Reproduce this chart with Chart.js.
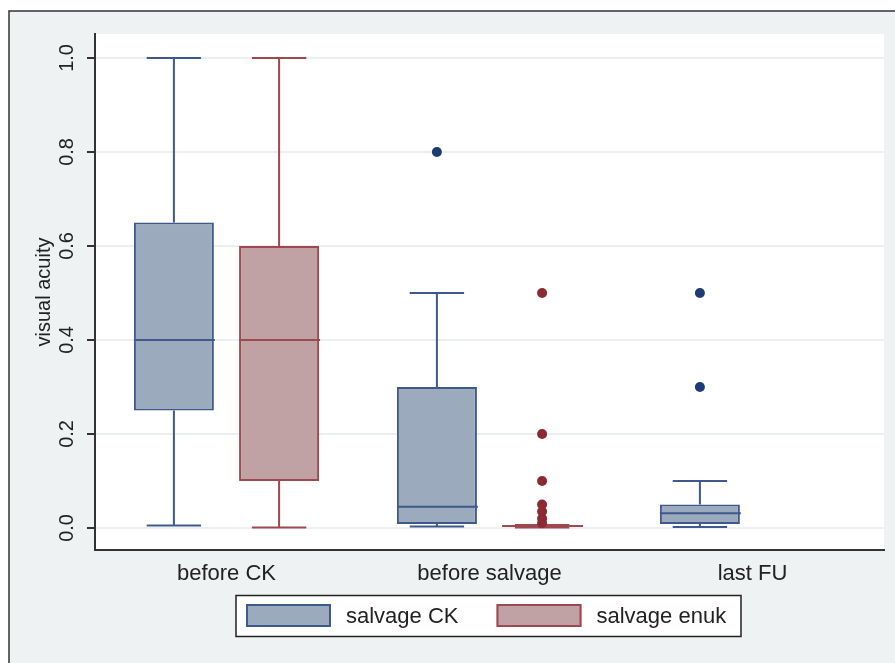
<!DOCTYPE html>
<html>
<head>
<meta charset="utf-8">
<script src="https://cdn.jsdelivr.net/npm/chart.js@4.4.1/dist/chart.umd.min.js"></script>
<style>
  html, body { margin: 0; padding: 0; background: #fff; }
  canvas { display: block; }
</style>
</head>
<body>
<canvas id="chart" width="895" height="663"></canvas>
<script>
// categories and tick labels
const categories = ['before CK', 'before salvage', 'last FU'];
const yTicks = [0, 0.2, 0.4, 0.6, 0.8, 1.0];
const seriesNames = ['salvage CK', 'salvage enuk'];

// salvage CK box stats
const ckMin = [0.005, 0.003, 0.002];
const ckQ1 = [0.25, 0.0085, 0.0085];
const ckMedian = [0.40, 0.045, 0.031];
const ckQ3 = [0.65, 0.30, 0.05];
const ckMax = [1.0, 0.50, 0.10];
const ckOutliers = [[], [0.8], [0.3, 0.5]];

// salvage enuk box stats (no data at last FU)
const enMin = [0.001, 0.001, null];
const enQ1 = [0.10, 0.003, null];
const enMedian = [0.40, 0.004, null];
const enQ3 = [0.60, 0.005, null];
const enMax = [1.0, 0.006, null];
const enOutliers = [[], [0.01, 0.02, 0.035, 0.05, 0.1, 0.2, 0.5], []];

const FONT = "'Liberation Sans', Arial, sans-serif";
const blue = { fill: '#9caabe', line: '#3e5a8c', dot: '#1f3b73' };
const red = { fill: '#c0a2a5', line: '#a04850', dot: '#8c2a33' };

const stats = [
  { min: ckMin, q1: ckQ1, med: ckMedian, q3: ckQ3, max: ckMax, out: ckOutliers, col: blue },
  { min: enMin, q1: enQ1, med: enMedian, q3: enQ3, max: enMax, out: enOutliers, col: red }
];

// floating bars = the boxes (q1..q3)
const boxData = s => s.q1.map((v, i) => v === null ? null : [v, s.q3[i]]);

//fondo y marco estilo stata
const frame = {
  id: 'frame',
  beforeDraw(chart) {
    const ctx = chart.ctx, a = chart.chartArea;
    ctx.save();
    ctx.fillStyle = '#ffffff';
    ctx.fillRect(0, 0, chart.width, chart.height);
    ctx.fillStyle = '#eef2f3';
    ctx.fillRect(9, 11, chart.width, chart.height);
    ctx.strokeStyle = '#333';
    ctx.lineWidth = 1.5;
    ctx.strokeRect(9, 11, chart.width + 10, chart.height + 10);
    ctx.fillStyle = '#ffffff';
    ctx.fillRect(a.left, a.top, a.right - a.left, a.bottom - a.top);
    ctx.restore();
  }
};

//bigotes, medianas y outliers
const whiskers = {
  id: 'whiskers',
  afterDatasetsDraw(chart) {
    const ctx = chart.ctx, y = chart.scales.y;
    ctx.save();
    stats.forEach((s, di) => {
      const meta = chart.getDatasetMeta(di);
      meta.data.forEach((bar, i) => {
        if (s.q1[i] === null) return;
        const x = bar.x, hw = bar.width / 2, cw = hw * 0.68;
        ctx.strokeStyle = s.col.line;
        ctx.lineWidth = 2;
        ctx.beginPath();
        // upper whisker
        ctx.moveTo(x, y.getPixelForValue(s.q3[i]));
        ctx.lineTo(x, y.getPixelForValue(s.max[i]));
        ctx.moveTo(x - cw, y.getPixelForValue(s.max[i]));
        ctx.lineTo(x + cw, y.getPixelForValue(s.max[i]));
        // lower whisker
        ctx.moveTo(x, y.getPixelForValue(s.q1[i]));
        ctx.lineTo(x, y.getPixelForValue(s.min[i]));
        ctx.moveTo(x - cw, y.getPixelForValue(s.min[i]));
        ctx.lineTo(x + cw, y.getPixelForValue(s.min[i]));
        // median
        ctx.moveTo(x - hw, y.getPixelForValue(s.med[i]));
        ctx.lineTo(x + hw + 1, y.getPixelForValue(s.med[i]));
        ctx.stroke();
        ctx.fillStyle = s.col.dot;
        s.out[i].forEach(v => {
          ctx.beginPath();
          ctx.arc(x, y.getPixelForValue(v), 5, 0, Math.PI * 2);
          ctx.fill();
        });
      });
    });
    ctx.restore();
  }
};

//leyenda con marco
const boxLegend = {
  id: 'boxLegend',
  afterDraw(chart) {
    const ctx = chart.ctx;
    ctx.save();
    ctx.fillStyle = '#ffffff';
    ctx.fillRect(236, 595.5, 505, 41);
    ctx.strokeStyle = '#222';
    ctx.lineWidth = 1.5;
    ctx.strokeRect(236, 595.5, 505, 41);
    const xs = [246, 496.5];
    chart.data.datasets.forEach((ds, i) => {
      ctx.fillStyle = ds.backgroundColor;
      ctx.fillRect(xs[i], 604, 85, 23);
      ctx.strokeStyle = ds.borderColor;
      ctx.lineWidth = 2;
      ctx.strokeRect(xs[i] + 1, 605, 83, 21);
      ctx.fillStyle = '#222';
      ctx.font = '22px ' + FONT;
      ctx.textBaseline = 'middle';
      ctx.textAlign = 'left';
      ctx.fillText(ds.label, xs[i] + 100, 616.5);
    });
    ctx.restore();
  }
};

const chart = new Chart(document.getElementById('chart').getContext('2d'), {
  type: 'bar',
  data: {
    labels: categories,
    datasets: stats.map((s, i) => ({
      label: seriesNames[i],
      data: boxData(s),
      backgroundColor: s.col.fill,
      borderColor: s.col.line,
      borderWidth: 2,
      borderSkipped: false,
      categoryPercentage: 0.8,
      barPercentage: 0.76
    }))
  },
  options: {
    responsive: false,
    animation: false,
    devicePixelRatio: 1,
    layout: { padding: { top: 34, right: 11, bottom: 63, left: 0 } },
    plugins: { legend: { display: false }, tooltip: { enabled: false } },
    scales: {
      x: {
        grid: { display: false, drawTicks: false },
        border: { color: '#333', width: 2 },
        ticks: { color: '#222', font: { family: FONT, size: 22 }, padding: 11 },
        afterFit(scale) { scale.height = 50; }
      },
      y: {
        min: -0.047,
        max: 1.051,
        afterBuildTicks(scale) { scale.ticks = yTicks.map(v => ({ value: v })); },
        afterFit(scale) { scale.width = 95; },
        grid: { color: '#eceff0', lineWidth: 2, tickColor: '#333', tickLength: 8 },
        border: { color: '#333', width: 2 },
        ticks: {
          color: '#222',
          font: { family: FONT, size: 20 },
          minRotation: 90,
          maxRotation: 90,
          crossAlign: 'center',
          padding: 6,
          callback: v => v.toFixed(1)
        },
        title: {
          display: true,
          text: 'visual acuity',
          color: '#222',
          font: { family: FONT, size: 20 },
          padding: { top: 32, bottom: 0 }
        }
      }
    }
  },
  plugins: [frame, whiskers, boxLegend]
});
</script>
</body>
</html>
